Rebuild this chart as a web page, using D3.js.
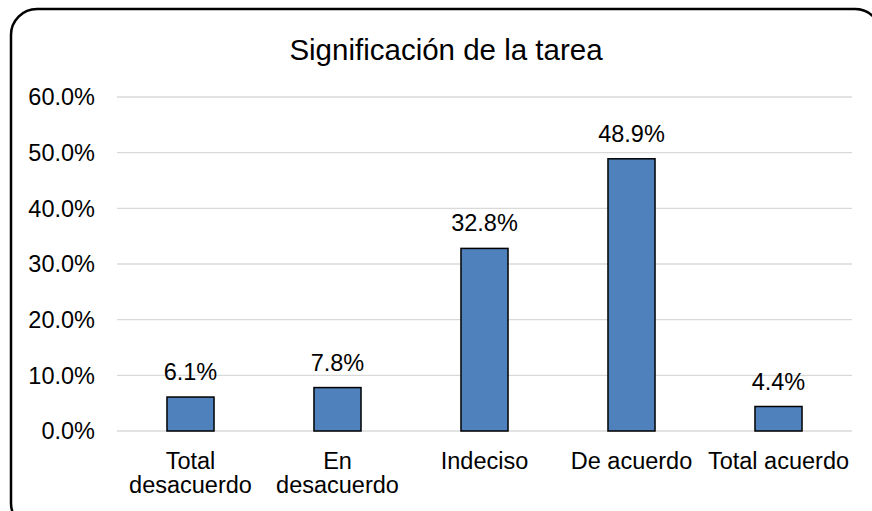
<!DOCTYPE html>
<html>
<head>
<meta charset="utf-8">
<script src="https://cdn.jsdelivr.net/npm/d3@7"></script>
<style>
  body { margin: 0; background: #fff; }
  svg { display: block; font-family: "Liberation Sans", Arial, sans-serif; }
</style>
</head>
<body>
<svg width="872" height="511"></svg>
<script>
// chart data
var categories = [["Total", "desacuerdo"], ["En", "desacuerdo"], ["Indeciso"], ["De acuerdo"], ["Total acuerdo"]];
var values = [6.1, 7.8, 32.8, 48.9, 4.4];
var yTicks = [0, 10, 20, 30, 40, 50, 60];
var title = "Significación de la tarea";

var svg = d3.select("svg");

// outer rounded frame (runs off the right and bottom edge)
svg.append("rect")
    .attr("x", 11)
    .attr("y", 9)
    .attr("width", 870)
    .attr("height", 520)
    .attr("rx", 26)
    .attr("fill", "#fff")
    .attr("stroke", "#000")
    .attr("stroke-width", 2.5);

// title
svg.append("text")
    .attr("x", 446)
    .attr("y", 60)
    .attr("text-anchor", "middle")
    .attr("font-size", "29.5px")
    .attr("fill", "#000")
    .text(title);

var margin = {top: 97, left: 117},
    width = 735,
    height = 334,
    g = svg.append("g").attr("transform", "translate(" + margin.left + "," + margin.top + ")");

var x = d3.scaleBand()
    .domain(d3.range(values.length))
    .range([0, width])
    .paddingInner(0.68)
    .paddingOuter(0.34);

var y = d3.scaleLinear()
    .domain([0, 60])
    .range([height, 0]);

// gridlines
g.append("g")
    .selectAll("line")
    .data(yTicks)
    .enter().append("line")
    .attr("x1", 0)
    .attr("x2", width)
    .attr("y1", function(d) { return y(d); })
    .attr("y2", function(d) { return y(d); })
    .attr("stroke", "#d9d9d9")
    .attr("stroke-width", 1.3);

// y axis labels
g.append("g")
    .selectAll("text")
    .data(yTicks)
    .enter().append("text")
    .attr("x", -22)
    .attr("y", function(d) { return y(d); })
    .attr("dy", "0.35em")
    .attr("text-anchor", "end")
    .attr("font-size", "23.5px")
    .attr("fill", "#000")
    .text(function(d) { return d.toFixed(1) + "%"; });

// bars
g.append("g")
    .selectAll("rect")
    .data(values)
    .enter().append("rect")
    .attr("x", function(d, i) { return x(i); })
    .attr("y", function(d) { return y(d); })
    .attr("width", x.bandwidth())
    .attr("height", function(d) { return y(0) - y(d); })
    .attr("fill", "#4f81bd")
    .attr("stroke", "#000")
    .attr("stroke-width", 1.5);

// value labels
g.append("g")
    .selectAll("text")
    .data(values)
    .enter().append("text")
    .attr("x", function(d, i) { return x(i) + x.bandwidth() / 2; })
    .attr("y", function(d) { return y(d) - 17; })
    .attr("text-anchor", "middle")
    .attr("font-size", "23.5px")
    .attr("fill", "#000")
    .text(function(d) { return d.toFixed(1) + "%"; });

// category labels
var cat = g.append("g")
    .selectAll("text")
    .data(categories)
    .enter().append("text")
    .attr("x", function(d, i) { return x(i) + x.bandwidth() / 2; })
    .attr("y", height + 38)
    .attr("text-anchor", "middle")
    .attr("font-size", "23.5px")
    .attr("fill", "#000");

cat.selectAll("tspan")
    .data(function(d) { return d; })
    .enter().append("tspan")
    .attr("x", function() { return d3.select(this.parentNode).attr("x"); })
    .attr("dy", function(d, i) { return i ? 24 : 0; })
    .text(function(d) { return d; });
</script>
</body>
</html>
